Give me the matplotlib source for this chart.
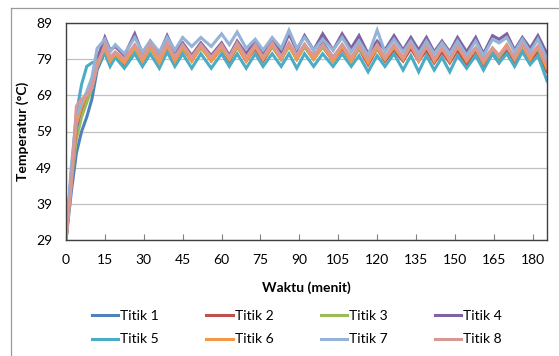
import matplotlib
matplotlib.use('Agg')
import matplotlib.pyplot as plt
from matplotlib.lines import Line2D

plt.rcParams['font.family'] = ['Lato', 'DejaVu Sans']

waktu = [0, 2, 4, 6, 8, 10, 12,
         15, 17, 19, 22.5, 26.5, 29.5, 32.5, 36, 39, 42,
         45, 48.5, 52, 56, 60, 63, 66, 69.5, 73, 76,
         79.5, 83, 86, 89, 92, 95.5, 99, 103, 106.5, 110,
         113, 116.5, 120, 123, 126.5, 130, 133, 136, 139, 142,
         145, 148, 151, 154.5, 158, 161, 164.5, 167, 170, 173,
         176, 179, 182, 185.5]

titik1 = [29, 42, 53, 59, 63, 68, 76,
          81, 79, 80, 78, 82.5, 79, 82.5, 78.5, 83, 79,
          82.5, 79, 82.5, 79, 82.5, 79, 83, 79, 82.5, 79,
          83, 79, 83, 79.5, 83, 79.5, 83.5, 79.5, 82.5, 79,
          82.5, 78, 82.5, 79, 82, 79, 82.5, 79, 82, 78.5,
          81.5, 79, 82, 79, 82, 78.5, 81.5, 79.5, 82, 79.5,
          82.5, 79.5, 82, 77]
titik2 = [29, 46, 59, 65, 68, 72, 78,
          82, 78.5, 80.5, 77.5, 82, 78.5, 82.5, 78, 82.5, 78.5,
          82, 78.5, 82.5, 78.5, 82, 78.5, 82.5, 78.5, 82, 78.5,
          82.5, 79, 83, 79, 82.5, 79, 82.5, 78.5, 82, 78.5,
          82, 77.5, 82, 78.5, 81.5, 78.5, 82, 78.5, 81.5, 78,
          81, 78, 81.5, 77.5, 81.5, 77, 80.5, 78, 81.5, 78,
          82, 78.5, 81, 75.5]
titik3 = [29, 45, 57, 63, 67, 71, 77,
          81.5, 78.5, 80, 78, 82, 78.5, 82, 78.5, 82.5, 79,
          82, 79, 82, 79, 82, 79, 82.5, 79, 83, 79,
          82.5, 79, 82.5, 79, 82.5, 79, 82.5, 79, 83, 79,
          82, 78.5, 82, 79, 82.5, 79, 83, 79, 82.5, 79,
          82, 79, 82.5, 79, 82, 79, 82, 79.5, 82.5, 79,
          82.5, 79.5, 82, 76.5]
titik4 = [29, 47, 60, 66, 69, 73, 79,
          85, 81.5, 82.5, 80, 86, 80.5, 84, 80.5, 85.5, 81,
          83.5, 80, 83.5, 80, 83.5, 80, 84, 80.5, 84, 80.5,
          84.5, 81, 86, 81.5, 85.5, 81.5, 86, 81.5, 86, 82,
          85.5, 80.5, 84, 81.5, 85.5, 81.5, 85, 81.5, 85, 81,
          84, 81, 85, 81, 85, 80.5, 85.5, 84.5, 86, 81.5,
          85, 82, 85.5, 80.5]
titik5 = [29, 47, 64, 72, 77, 78, 78.5,
          80.5, 77, 79.5, 76.5, 80.5, 77, 80.5, 76.5, 81, 77,
          80.5, 76.5, 80.5, 76.5, 80.5, 77, 80.5, 76.5, 80.5, 77,
          80.5, 77, 80.5, 76.5, 80.5, 77, 80.5, 77, 80.5, 77,
          80, 75.5, 80, 77, 80.5, 76, 80, 75.5, 80, 76,
          79.5, 75.5, 80, 76.5, 80, 76, 80.5, 78, 80.5, 77,
          81, 77.5, 80, 73]
titik6 = [29, 46, 61, 66, 69, 72, 78,
          82, 78.5, 80.5, 78, 82.5, 78.5, 82.5, 78, 83, 78.5,
          82.5, 78.5, 82.5, 78.5, 82.5, 79, 83, 78.5, 82.5, 79,
          83, 79, 83, 79, 83, 79, 83, 78.5, 82.5, 78.5,
          83, 78, 82.5, 79, 82.5, 79, 83, 78.5, 83, 78.5,
          82, 78.5, 82.5, 78.5, 82, 78, 82, 80, 83, 79,
          83, 79, 82.5, 76.5]
titik7 = [29, 49, 63, 67, 70, 74, 82,
          84.5, 81, 83, 80.5, 85, 81, 84, 81, 85, 81.5,
          85, 82.5, 85, 82.5, 86, 83, 86.5, 82, 84.5, 81.5,
          85, 82, 87, 82, 85, 81.5, 84.5, 81.5, 85, 81,
          84, 80, 87, 81, 84.5, 81, 84, 80.5, 84, 80.5,
          83.5, 80.5, 84, 80, 84, 80, 84.5, 83.5, 85, 81,
          84.5, 81, 84.5, 79]
titik8 = [29, 44, 66, 68, 69, 71, 77,
          83, 79.5, 81, 79, 83, 79.5, 83, 79.5, 83.5, 79.5,
          83, 79.5, 83, 79.5, 83, 79.5, 83.5, 79.5, 83, 79.5,
          83.5, 79.5, 83.5, 80, 83, 80, 83, 79.5, 83, 79.5,
          82.5, 79, 83, 79.5, 83, 79.5, 83, 79, 82.5, 79,
          82, 79, 82.5, 79, 82, 78.5, 82, 80, 82.5, 79.5,
          83, 80, 82.5, 77.5]

series = [titik1, titik2, titik3, titik4, titik5, titik6, titik7, titik8]
labels = ['Titik 1', 'Titik 2', 'Titik 3', 'Titik 4',
          'Titik 5', 'Titik 6', 'Titik 7', 'Titik 8']
colors = ['#4F81BD', '#C0504D', '#9BBB59', '#8064A2',
          '#4BACC6', '#F79646', '#95B3D7', '#D99795']

fig = plt.figure(figsize=(5.59, 3.56), dpi=100)
ax = fig.add_axes([66/559, 1-240/356, (547-66)/559, (240-23)/356])

lines = []
for y, lab, c in zip(series, labels, colors):
    ln, = ax.plot(waktu, y, color=c, lw=2.2, label=lab, solid_joinstyle='miter')
    lines.append(ln)

ax.set_xlim(0, 185.5)
ax.set_ylim(29, 89)
ax.set_xticks(range(0, 181, 15))
ax.set_yticks(range(29, 90, 10))
ax.grid(axis='y', color='#c0c0c0', lw=0.9)
ax.set_axisbelow(True)
ax.tick_params(axis='x', direction='in', length=4, color='#808080',
               labelsize=10, pad=10)
ax.tick_params(axis='y', length=0, labelsize=10, pad=10)
for s in ax.spines.values():
    s.set_color('#404040')
    s.set_linewidth(1.0)

ax.set_xlabel('Waktu (menit)', fontsize=10, fontweight='bold', labelpad=11)
ax.set_ylabel('Temperatur (°C)', fontsize=10, fontweight='bold', labelpad=5)

# legend filled row by row like Excel
order = [0, 4, 1, 5, 2, 6, 3, 7]
fig.legend([lines[i] for i in order], [labels[i] for i in order],
           loc='center', bbox_to_anchor=(297/559, 1-327.5/356), ncol=4,
           frameon=False, fontsize=10, handlelength=1.9, handletextpad=0.15,
           columnspacing=3.4, labelspacing=0.85)

# chart area border
fig.add_artist(Line2D([11/559, 11/559], [0, 1-8/356], color='#9a9a9a', lw=0.9))
fig.add_artist(Line2D([11/559, 1], [1-8/356, 1-8/356], color='#9a9a9a', lw=0.9))

fig.savefig('out.png', dpi=100)
